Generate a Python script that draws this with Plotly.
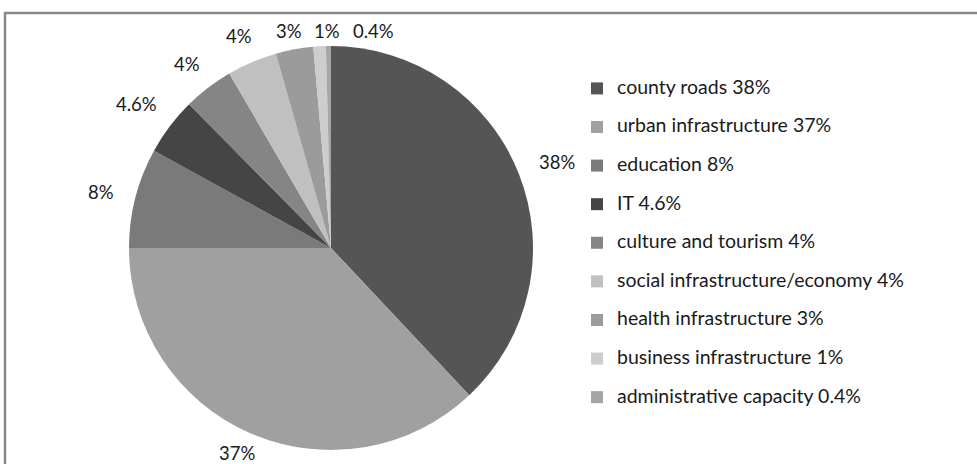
import math
import plotly.graph_objects as go

# Shares of the allocation by sector (percent)
labels = [
    "county roads",
    "urban infrastructure",
    "education",
    "IT",
    "culture and tourism",
    "social infrastructure/economy",
    "health infrastructure",
    "business infrastructure",
    "administrative capacity",
]
values = [38, 37, 8, 4.6, 4, 4, 3, 1, 0.4]
value_text = ["38%", "37%", "8%", "4.6%", "4%", "4%", "3%", "1%", "0.4%"]
colors = ["#555555", "#a0a0a0", "#7a7a7a", "#454545", "#858585",
          "#c0c0c0", "#9b9b9b", "#cdcdcd", "#a5a5a5"]

W, H = 977, 464
FONT = "Lato"
TEXT_SIZE = 18.5
LEGEND_TEXT_SIZE = 19.5
TEXT_COLOR = "#1a1a1a"

# pie geometry in pixels
cx, cy, r = 331, 248, 202

legend_names = [
    f"<span style='font-size:{LEGEND_TEXT_SIZE}px'>{n} {t}</span><br> "
    for n, t in zip(labels, value_text)
]

fig = go.Figure(go.Pie(
    labels=legend_names,
    values=values,
    marker=dict(colors=colors, line=dict(width=0)),
    sort=False,
    direction="clockwise",
    rotation=0,
    textinfo="none",
    hoverinfo="label+percent",
    domain=dict(x=[(cx - r) / W, (cx + r) / W],
                y=[(H - cy - r) / H, (H - cy + r) / H]),
))


def text_width(s):
    em = {"%": 0.84, ".": 0.26}
    return sum(em.get(ch, 0.58) for ch in s) * TEXT_SIZE


# value labels placed just outside each slice, kept inside the frame
# and pushed apart when their boxes would overlap
total = sum(values)
gap = 21
cap_h = 13
y_min, y_max = 31, 453
placed = []
cum = 0
for v, t in zip(values, value_text):
    mid = (cum + v / 2) / total * 2 * math.pi
    cum += v
    s, c = math.sin(mid), -math.cos(mid)
    w = text_width(t)
    ext = abs(s) * w / 2 + abs(c) * cap_h / 2
    R = r + gap + ext
    x, y = cx + R * s, cy + R * c + 3
    y = min(max(y, y_min), y_max)
    for (px, py, pw) in placed:
        if abs(py - y) < cap_h + 4 and abs(px - x) < (pw + w) / 2 + 12:
            x = px + (pw + w) / 2 + 12
    placed.append((x, y, w))
    fig.add_annotation(
        x=x / W, y=1 - y / H, xref="paper", yref="paper",
        text=t, showarrow=False, xanchor="center", yanchor="middle",
        font=dict(family=FONT, size=TEXT_SIZE, color=TEXT_COLOR),
    )

# chart frame
fig.add_shape(type="rect", xref="paper", yref="paper",
              x0=5 / W, x1=1.02, y0=-0.02, y1=1 - 13 / H,
              line=dict(color="#878787", width=2.5))

fig.update_layout(
    width=W, height=H,
    margin=dict(l=0, r=0, t=0, b=0),
    paper_bgcolor="white",
    plot_bgcolor="white",
    font=dict(family=FONT, color=TEXT_COLOR),
    showlegend=True,
    legend=dict(
        x=(617 - 40) / W, xanchor="left",
        y=1 - 73 / H, yanchor="top",
        font=dict(family=FONT, size=13.69, color=TEXT_COLOR),
        valign="top",
        bgcolor="rgba(0,0,0,0)",
        traceorder="normal",
    ),
)

fig.write_html("out.html")
